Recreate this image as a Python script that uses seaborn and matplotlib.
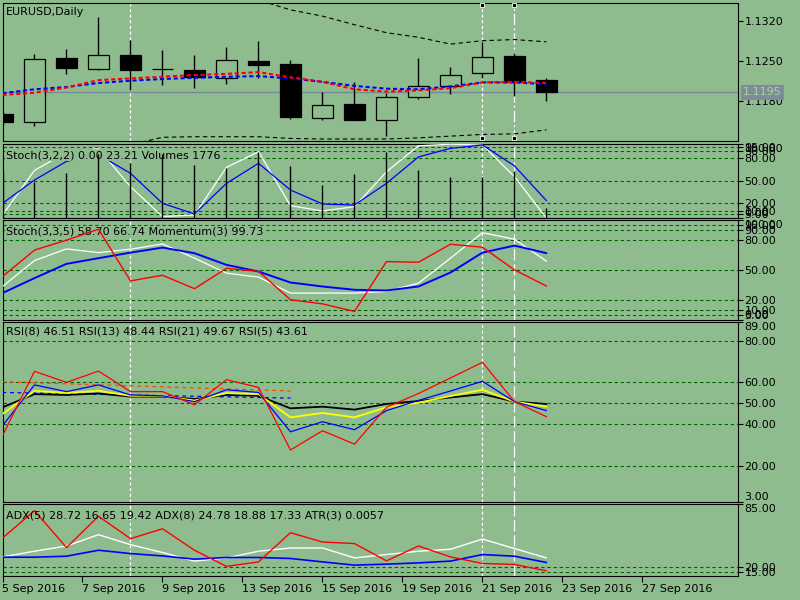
import numpy as np
import matplotlib
matplotlib.use("Agg")
import matplotlib.pyplot as plt
import seaborn as sns

# ---- values (one per daily bar) ----
date_labels = ["5 Sep 2016", "7 Sep 2016", "9 Sep 2016", "13 Sep 2016", "15 Sep 2016",
               "19 Sep 2016", "21 Sep 2016", "23 Sep 2016", "27 Sep 2016"]
date_pos = [0, 2.5, 5, 7.5, 10, 12.5, 15, 17.5, 20]

opens = [1.1156, 1.1143, 1.1254, 1.1236, 1.1260, 1.1235, 1.1233, 1.1219, 1.1250,
         1.1244, 1.1149, 1.1174, 1.1147, 1.1187, 1.1205, 1.1228, 1.1258, 1.1216]
highs = [1.1160, 1.1262, 1.1271, 1.1327, 1.1286, 1.1269, 1.1260, 1.1274, 1.1285,
         1.1251, 1.1195, 1.1213, 1.1194, 1.1255, 1.1239, 1.1282, 1.1263, 1.1219]
lows = [1.1138, 1.1136, 1.1226, 1.1233, 1.1198, 1.1208, 1.1203, 1.1210, 1.1219,
        1.1148, 1.1146, 1.1146, 1.1118, 1.1183, 1.1191, 1.1219, 1.1188, 1.1180]
closes = [1.1143, 1.1253, 1.1238, 1.1260, 1.1234, 1.1235, 1.1221, 1.1251, 1.1243,
          1.1152, 1.1172, 1.1147, 1.1186, 1.1206, 1.1225, 1.1256, 1.1213, 1.1195]

ma_red = [1.1190, 1.1194, 1.1203, 1.1216, 1.1219, 1.1222, 1.1225, 1.1227, 1.1230,
          1.1221, 1.1213, 1.1200, 1.1196, 1.1198, 1.1202, 1.1212, 1.1213, 1.1211]
ma_blue = [1.1193, 1.1200, 1.1204, 1.1211, 1.1215, 1.1218, 1.1220, 1.1222, 1.1223,
           1.1219, 1.1213, 1.1206, 1.1201, 1.1200, 1.1205, 1.1212, 1.1212, 1.1209]
band_up = [1.1426, 1.1418, 1.1409, 1.1405, 1.1400, 1.1391, 1.1382, 1.1370, 1.1356,
           1.1339, 1.1328, 1.1313, 1.1299, 1.1291, 1.1279, 1.1285, 1.1287, 1.1283]
band_lo = [1.1076, 1.1083, 1.1090, 1.1096, 1.1103, 1.1116, 1.1117, 1.1117, 1.1117,
           1.1114, 1.1113, 1.1113, 1.1113, 1.1115, 1.1118, 1.1121, 1.1122, 1.1129]

stoch_a_main = [4, 64, 88, 93, 42, 2, 4, 68, 89, 16.5, 9.4, 15.2, 62, 97, 99, 98, 55.5, 0.0]
stoch_a_sig = [19.7, 51, 76, 85, 60, 19.7, 5.4, 46.5, 73.4, 37.6, 18.8, 17.4, 46.5, 82, 93.5, 98, 70, 23.21]
volumes = [8000, 6260, 7710, 11120, 9430, 11120, 9140, 8670, 11430,
           8970, 5690, 7590, 11430, 8280, 7120, 7120, 8100, 1776]

stoch_b_main = [33.3, 59.3, 71, 67.3, 70.7, 76, 61.7, 46.7, 42.7,
                26.7, 26.7, 26.7, 28.3, 36.7, 61.7, 87.3, 80.7, 58.7]
stoch_b_sig = [26.7, 41.7, 56, 61.7, 67.3, 72.3, 66.7, 55, 48.3,
               37.3, 33.3, 30, 29.3, 33.3, 47.3, 67.3, 74.3, 66.74]
momentum = [99.95, 100.56, 100.79, 101.04, 99.85, 99.98, 99.67, 100.14, 100.07,
            99.415, 99.32, 99.146, 100.295, 100.28, 100.695, 100.626, 100.104, 99.73]

rsi5 = [34.5, 65.3, 60, 65.4, 55.6, 55.6, 49.3, 61.3, 57.6, 27.7, 36.9, 30.5, 48.1, 54.7, 62.1, 69.6, 50.8, 43.61]
rsi8 = [39.3, 58.8, 55.6, 58.8, 54, 53.6, 50.8, 56.5, 55.2, 36.4, 41.2, 37.4, 46.5, 51.4, 55.9, 60.5, 50.8, 46.51]
rsi13 = [44.9, 56, 54.9, 56, 53.6, 53.6, 51.3, 54.9, 54.4, 43.3, 45.4, 43.3, 48.1, 50.3, 53.5, 56.5, 50.8, 48.44]
rsi21 = [48.1, 54.4, 54, 54.7, 53.2, 53.2, 52.1, 54, 53.6, 47.6, 48.4, 47, 49.7, 51.1, 52.8, 54.4, 50.8, 49.67]
trend_x = [0, 9]
trend_orange = [60.3, 55.9]
trend_blue = [55.2, 52.5]

adx_red = [49.9, 77.9, 40.2, 72.2, 49.3, 59.4, 37.5, 21.0, 25.6, 55.4, 45.9, 44.3, 26.7, 41.8, 30.7, 24.0, 23.0, 16.5]
adx_white = [30.7, 36.5, 41.8, 53.4, 43.2, 35.2, 26.4, 29.7, 36.5, 39.8, 39.8, 29.7, 33.1, 36.5, 38.5, 48.9, 39.2, 29.7]
adx_blue = [30.4, 30.4, 31.4, 37.5, 34.1, 31.7, 28.4, 30.1, 30.1, 29.1, 25.6, 22.3, 23.3, 24.6, 26.4, 33.1, 31.4, 25.0]

vline_bars = [4, 15, 16]
stoch_levels = [5, 10, 20, 50, 80, 90, 95]
rsi_levels = [20, 40, 50, 60, 80]
adx_levels = [15, 20]

BG = "#8fbc8f"
GRID = "#006400"

sns.set_style("ticks", rc={"axes.facecolor": BG, "figure.facecolor": BG,
                           "axes.edgecolor": "black", "axes.linewidth": 0.8,
                           "text.color": "black", "axes.labelcolor": "black",
                           "xtick.color": "black", "ytick.color": "black"})
plt.rcParams["font.family"] = ["DejaVu Sans"]
plt.rcParams["font.size"] = 8

fig = plt.figure(figsize=(8, 6), dpi=100)


def add_panel(top, bottom, sharex=None):
    # top/bottom are pixel rows of the terminal sub-window
    ax = fig.add_axes([2.5 / 800, 1 - bottom / 600, 735 / 800, (bottom - top) / 600], sharex=sharex)
    ax.set_facecolor(BG)
    for sp in ax.spines.values():
        sp.set_visible(True)
        sp.set_color("black")
        sp.set_linewidth(0.8)
    ax.tick_params(axis="x", bottom=False, labelbottom=False)
    return ax


def right_scale(ax, lo, hi, ticks, fmt="{:.2f}"):
    ax.yaxis.tick_right()
    ax.tick_params(axis="y", direction="out", length=3.5, width=0.8, pad=1.5,
                   labelsize=8, left=False, right=True, colors="black")
    ax.set_ylim(lo, hi)
    ax.set_yticks(ticks, labels=[fmt.format(t) for t in ticks])
    for t, tick in zip(ticks, ax.yaxis.get_major_ticks()):
        if t >= hi:
            tick.label2.set_va("top")
        elif t <= lo:
            tick.label2.set_va("bottom")


def title(ax, s, dy, box=False):
    ax.annotate(s, xy=(0, 1), xycoords="axes fraction", xytext=(3.5, -dy),
                textcoords="offset pixels", ha="left", va="center", fontsize=8,
                color="black", bbox=dict(fc=BG, ec="none", pad=0.5) if box else None, zorder=5)


def levels(ax, vals):
    for v in vals:
        ax.axhline(v, color=GRID, lw=0.8, ls=(0, (3, 2.5)), zorder=1)


def line(ax, y, color, lw=1.0, ls="-", x=None, z=3):
    xs = np.arange(len(y)) if x is None else x
    sns.lineplot(x=xs, y=y, ax=ax, color=color, lw=lw, ls=ls, errorbar=None, zorder=z)


ax1 = add_panel(2.7, 141)
ax2 = add_panel(143.5, 218, sharex=ax1)
ax3 = add_panel(220, 319.7, sharex=ax1)
ax4 = add_panel(321.7, 501.7, sharex=ax1)
ax5 = add_panel(503.7, 576, sharex=ax1)

idx = np.arange(len(opens))

# ---- price window: candles, averages, bands ----
o = np.array(opens)
c = np.array(closes)
bull = c >= o
ax1.axhline(closes[-1], color="#778899", lw=1.0, zorder=1.5)
ax1.vlines(idx, lows, highs, color="black", lw=1.0, zorder=2)
ax1.bar(idx, np.abs(c - o), bottom=np.minimum(o, c), width=0.68,
        color=np.where(bull, BG, "black"), edgecolor="black", linewidth=0.9, zorder=2.5)
line(ax1, ma_blue, "blue", lw=1.5, ls=(0, (2, 1.3)), z=4)
line(ax1, ma_red, "red", lw=1.5, ls=(0, (2, 1.3)), z=4)
line(ax1, band_up, "black", lw=0.8, ls=(0, (4, 3)))
line(ax1, band_lo, "black", lw=0.8, ls=(0, (4, 3)))
right_scale(ax1, 1.11095, 1.13515, [1.1180, 1.1250, 1.1320], fmt="{:.4f}")
ax1.text(1.0075, closes[-1], f"{closes[-1]:.4f}", transform=ax1.get_yaxis_transform(),
         ha="left", va="center", fontsize=8, color="#a8d4a0", clip_on=False, zorder=6,
         bbox=dict(boxstyle="square,pad=0.22", fc="#7f8c99", ec="none"))
ax1.plot([vline_bars[1], vline_bars[1], vline_bars[2], vline_bars[2]], [0.981, 0.022, 0.981, 0.022],
         transform=ax1.get_xaxis_transform(), ls="none", marker="s", ms=3.5,
         mfc="black", mec="white", mew=0.6, clip_on=False, zorder=6)
title(ax1, "EURUSD,Daily", 9.3)

# ---- Stoch(3,2,2) + volumes ----
levels(ax2, stoch_levels)
line(ax2, stoch_a_main, "white", lw=0.9)
line(ax2, stoch_a_sig, "blue", lw=0.9)
title(ax2, "Stoch(3,2,2) 0.00 23.21 Volumes 1776", 11.5, box=True)
ax2v = ax2.twinx()
ax2v.vlines(idx, 0, volumes, color="black", lw=1.0)
ax2v.set_ylim(0, 12850)
ax2v.set_yticks([])
for sp in ax2v.spines.values():
    sp.set_visible(False)
right_scale(ax2, 0, 100, [0, 5, 10, 20, 50, 80, 90, 95, 100])

# ---- Stoch(3,3,5) + momentum ----
levels(ax3, stoch_levels)
line(ax3, stoch_b_main, "white", lw=0.9)
line(ax3, stoch_b_sig, "blue", lw=1.4)
title(ax3, "Stoch(3,3,5) 58.70 66.74 Momentum(3) 99.73", 11.3, box=True)
ax3m = ax3.twinx()
line(ax3m, momentum, "red", lw=1.0)
ax3m.set_ylim(98.955, 101.254)
ax3m.set_yticks([])
ax3m.set_ylabel("")
for sp in ax3m.spines.values():
    sp.set_visible(False)
right_scale(ax3, 0, 100, [0, 5, 10, 20, 50, 80, 90, 95, 100])

# ---- RSI window ----
levels(ax4, rsi_levels)
line(ax4, trend_orange, "#ff4500", lw=0.9, ls=(0, (3, 3)), x=trend_x)
line(ax4, trend_blue, "blue", lw=0.9, ls=(0, (3, 3)), x=trend_x)
line(ax4, rsi21, "black", lw=1.3)
line(ax4, rsi13, "yellow", lw=1.3)
line(ax4, rsi8, "blue", lw=0.9)
line(ax4, rsi5, "red", lw=0.9)
right_scale(ax4, 3, 89, [3, 20, 40, 50, 60, 80, 89])
title(ax4, "RSI(8) 46.51 RSI(13) 48.44 RSI(21) 49.67 RSI(5) 43.61", 10.3)

# ---- ADX / ATR window ----
levels(ax5, adx_levels)
line(ax5, adx_white, "white", lw=1.0)
line(ax5, adx_blue, "blue", lw=1.2)
line(ax5, adx_red, "red", lw=1.0)
right_scale(ax5, 11.2, 85, [15, 20, 85])
title(ax5, "ADX(5) 28.72 16.65 19.42 ADX(8) 24.78 18.88 17.33 ATR(3) 0.0057", 11.3)

# vertical line objects crossing every window
for ax in (ax1, ax2, ax3, ax4, ax5):
    ax.axvline(vline_bars[0], color="white", lw=0.9, ls=(0, (2.5, 2)), zorder=1.8)
    ax.axvline(vline_bars[1], color="white", lw=0.9, ls=(0, (2.5, 2)), zorder=1.8)
    ax.axvline(vline_bars[2], color="white", lw=0.9,
               ls=(0, (9, 2.5, 1.5, 2.5)) if ax is ax1 else (0, (9, 3)), zorder=1.8)
    ax.set_xlabel("")
    ax.set_ylabel("")

# date axis under the last window
ax1.set_xlim(0, 22.97)
ax5.set_xticks(date_pos, labels=date_labels)
ax5.tick_params(axis="x", bottom=True, labelbottom=True, direction="out",
                length=4, width=0.8, pad=2, labelsize=8, colors="black")
for lab in ax5.get_xticklabels():
    lab.set_ha("left")

fig.savefig("out.png", dpi=100, facecolor=BG)
